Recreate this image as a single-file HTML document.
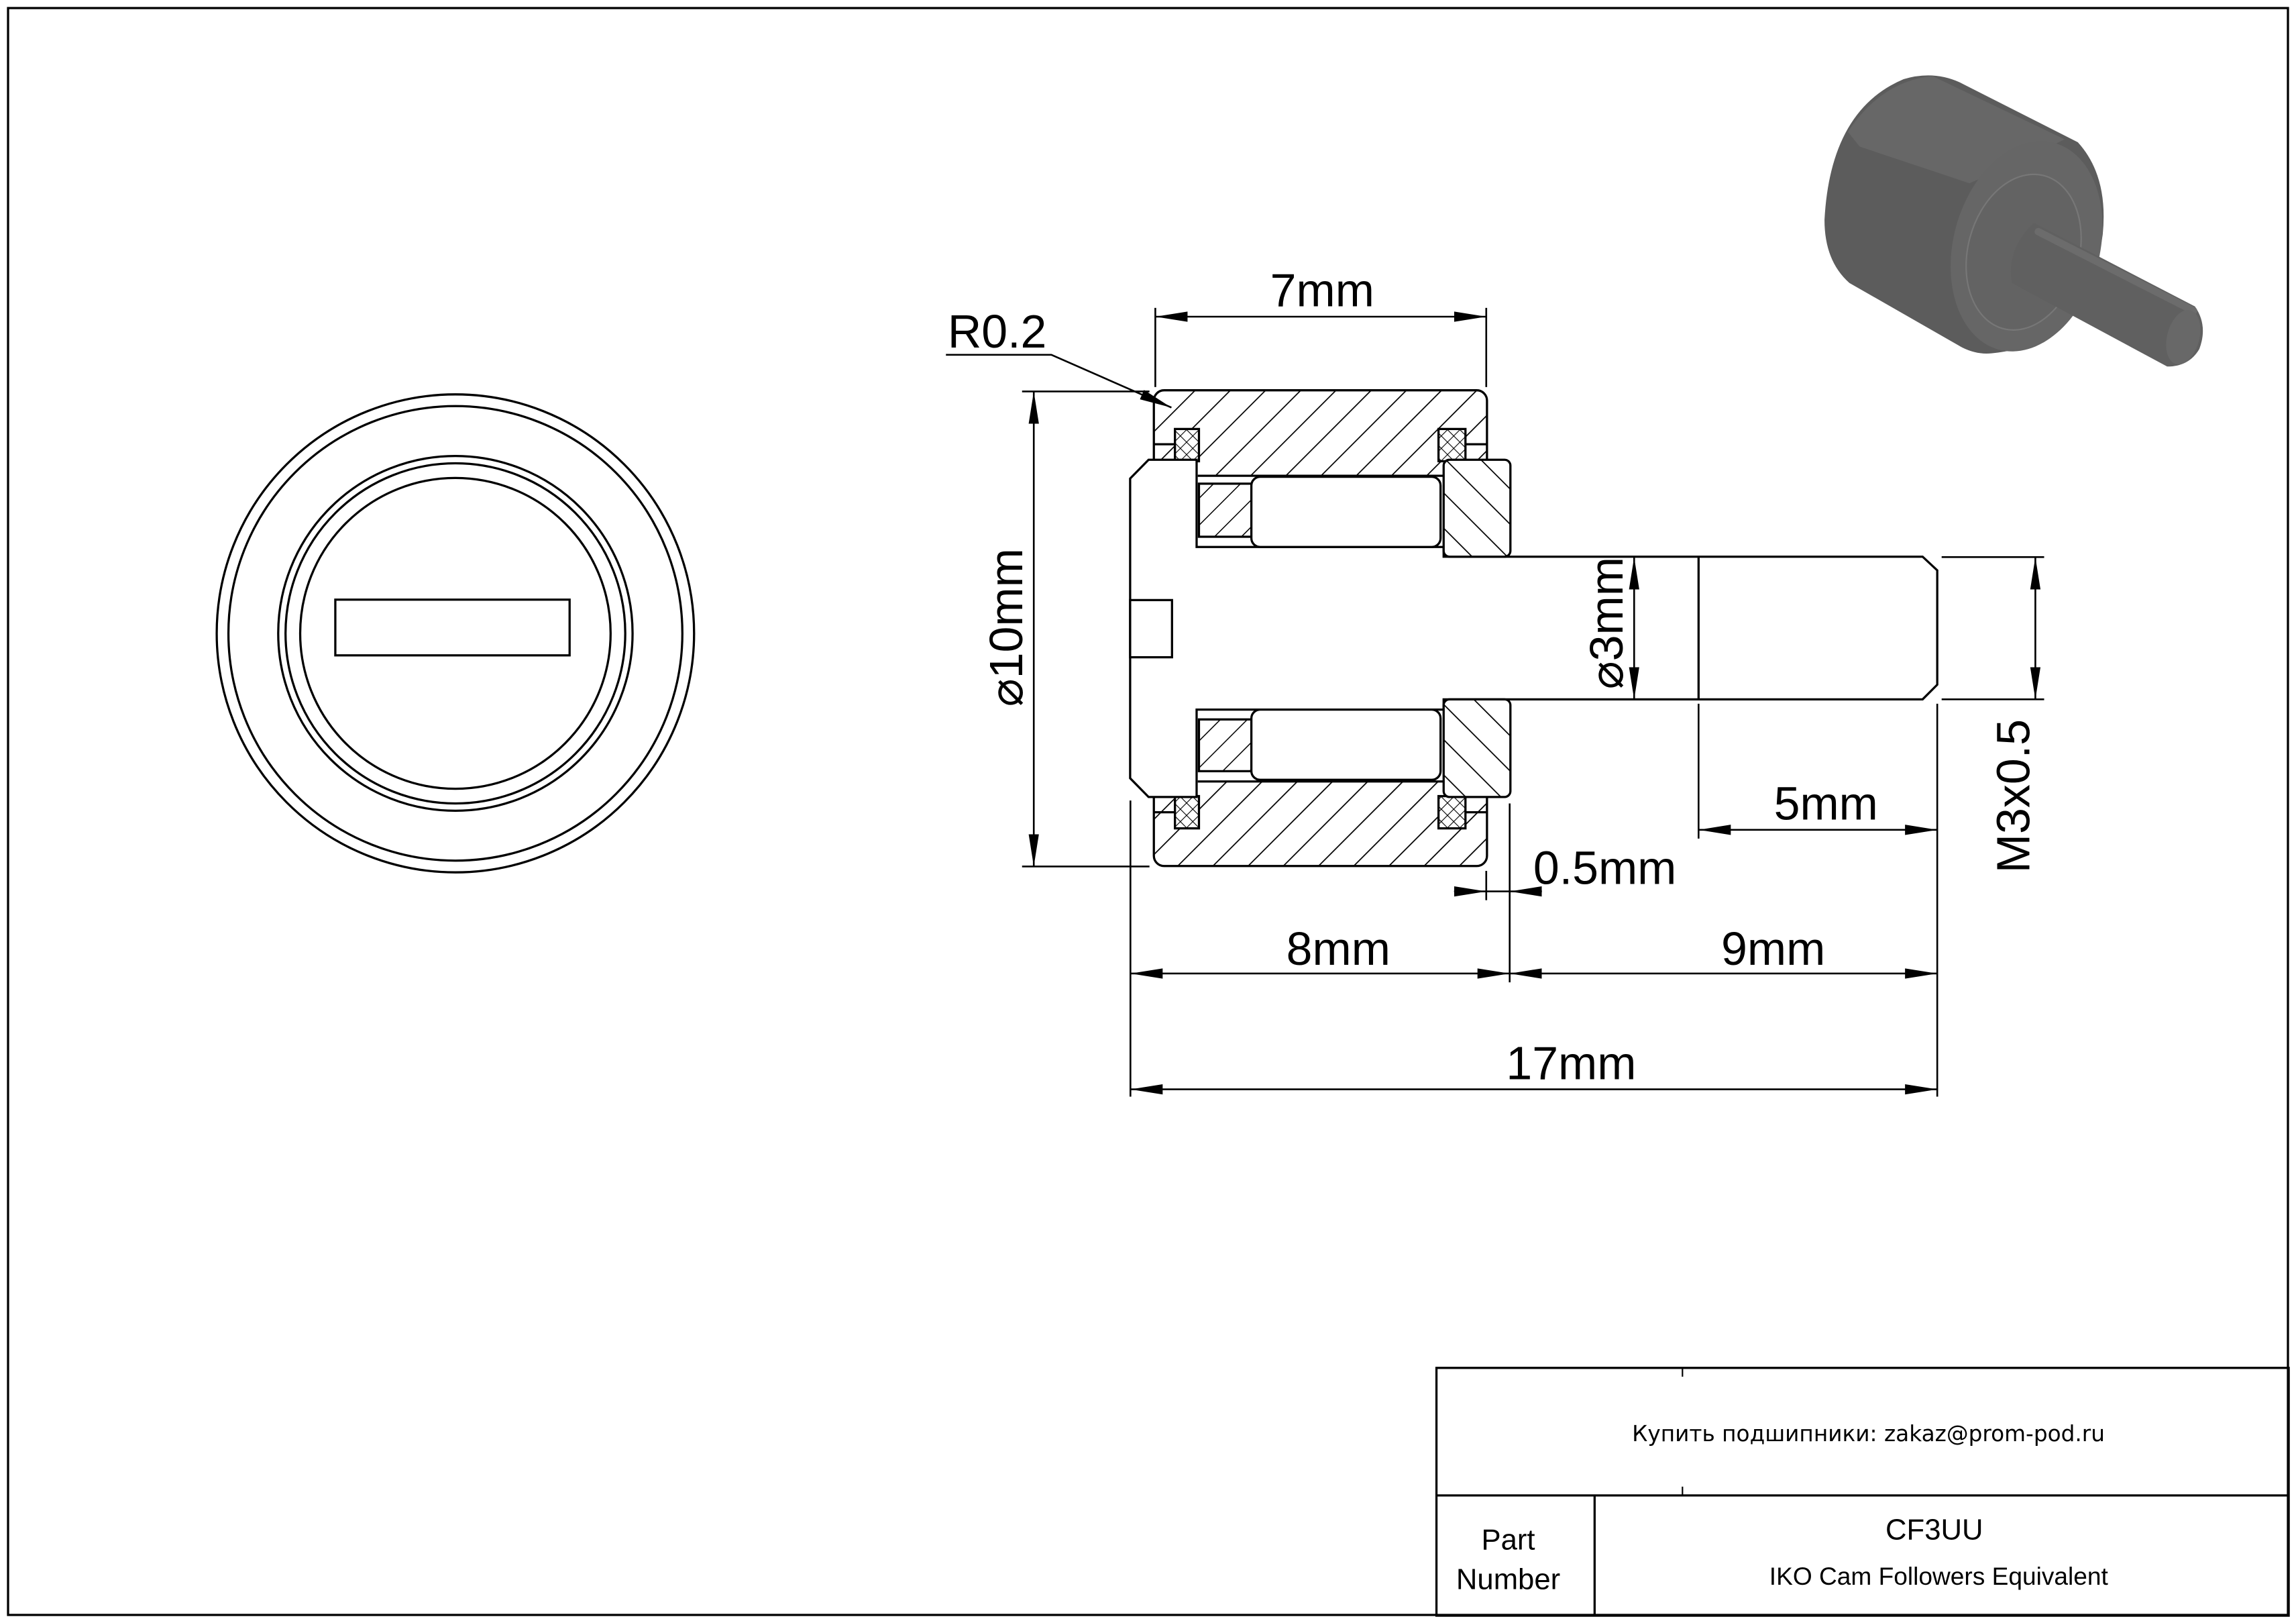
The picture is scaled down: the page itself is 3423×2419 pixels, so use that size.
<!DOCTYPE html>
<html><head><meta charset="utf-8"><style>html,body{margin:0;padding:0;background:#fff}svg{display:block}</style></head>
<body>
<svg width="3423" height="2419" viewBox="0 0 1568 1107" preserveAspectRatio="none" xmlns="http://www.w3.org/2000/svg" font-family="'Liberation Sans','DejaVu Sans',sans-serif">
<defs>
<pattern id="h1" patternUnits="userSpaceOnUse" width="17" height="17" patternTransform="rotate(45)"><rect width="17" height="17" fill="#fff"/><line x1="0" y1="0" x2="0" y2="17" stroke="#000" stroke-width="1.6"/></pattern>
<pattern id="h2" patternUnits="userSpaceOnUse" width="17" height="17" patternTransform="rotate(-45)"><rect width="17" height="17" fill="#fff"/><line x1="0" y1="0" x2="0" y2="17" stroke="#000" stroke-width="1.6"/></pattern>
<pattern id="h3" patternUnits="userSpaceOnUse" width="13" height="13" patternTransform="rotate(45)"><rect width="13" height="13" fill="#fff"/><line x1="0" y1="0" x2="0" y2="13" stroke="#000" stroke-width="1.4"/></pattern>
<pattern id="hx" patternUnits="userSpaceOnUse" width="6" height="6" patternTransform="rotate(45)"><rect width="6" height="6" fill="#fff"/><line x1="0" y1="0" x2="0" y2="6" stroke="#000" stroke-width="1"/><line x1="0" y1="0" x2="6" y2="0" stroke="#000" stroke-width="1"/></pattern>
<marker id="a" markerUnits="userSpaceOnUse" markerWidth="24" markerHeight="10" refX="22" refY="4" orient="auto-start-reverse"><path d="M0,0.5 L22,4 L0,7.5 Z" fill="#000"/></marker>
</defs>
<rect x="5.5" y="5.5" width="1557" height="1096" fill="none" stroke="#000" stroke-width="1.5"/>

<!-- left view -->
<g fill="none" stroke="#000" stroke-width="1.5">
<circle cx="311" cy="432" r="163"/><circle cx="311" cy="432" r="155"/>
<circle cx="311" cy="432" r="121"/><circle cx="311" cy="432" r="116"/><circle cx="311" cy="432" r="106"/>
<rect x="229" y="409" width="160" height="38"/>
</g>

<!-- section -->
<g stroke="#000" stroke-width="1.5">
<rect x="788" y="266.2" width="227.5" height="324.5" rx="7" fill="url(#h1)"/>
<rect x="789" y="324.5" width="225.5" height="208.5" fill="#fff" stroke="none"/>
<line x1="818" y1="324.5" x2="986" y2="324.5"/><line x1="818" y1="533" x2="986" y2="533"/>
<rect x="802.4" y="292.6" width="16.4" height="22" fill="url(#hx)"/>
<rect x="982.4" y="292.6" width="18.4" height="22" fill="url(#hx)"/>
<rect x="802.4" y="543" width="16.4" height="22" fill="url(#hx)"/>
<rect x="982.4" y="543" width="18.4" height="22" fill="url(#hx)"/>
<line x1="788" y1="303" x2="802" y2="303"/><line x1="1001" y1="303" x2="1015" y2="303"/>
<line x1="788" y1="554" x2="802" y2="554"/><line x1="1001" y1="554" x2="1015" y2="554"/>
<path d="M771.8,326.4 L784.4,313.6 L817.2,313.6 L817.2,373.1 L985.9,373.1 L985.9,379.7 L1313,379.7 L1323,389 L1323,467 L1313,477 L985.9,477 L985.9,484 L817.2,484 L817.2,543.6 L784.4,543.6 L771.8,530.8 Z" fill="#fff"/>
<rect x="985.9" y="313.6" width="45.6" height="66.1" rx="4" fill="url(#h2)"/>
<rect x="985.9" y="477" width="45.6" height="66.6" rx="4" fill="url(#h2)"/>
<rect x="818.8" y="329.9" width="35.8" height="36.2" fill="url(#h3)"/>
<rect x="818.8" y="490.7" width="35.8" height="35.3" fill="url(#h3)"/>
<rect x="854.6" y="325.2" width="129.2" height="47.9" rx="6" fill="#fff"/>
<rect x="854.6" y="484" width="129.2" height="47.9" rx="6" fill="#fff"/>
<rect x="771.8" y="409.3" width="28.6" height="39" fill="none"/>
<line x1="1160" y1="379.7" x2="1160" y2="477"/>
</g>

<!-- dimensions -->
<g stroke="#000" stroke-width="1.2" fill="none">
<line x1="789" y1="210" x2="789" y2="264"/><line x1="1015" y1="210" x2="1015" y2="264"/>
<line x1="789" y1="216" x2="1015" y2="216" marker-start="url(#a)" marker-end="url(#a)"/>
<polyline points="646,242 718,242 800,278" marker-end="url(#a)"/>
<line x1="698" y1="267" x2="785" y2="267"/><line x1="698" y1="591" x2="785" y2="591"/>
<line x1="706" y1="267" x2="706" y2="591" marker-start="url(#a)" marker-end="url(#a)"/>
<line x1="1116" y1="380" x2="1116" y2="477" marker-start="url(#a)" marker-end="url(#a)"/>
<line x1="1326" y1="380" x2="1396" y2="380"/><line x1="1326" y1="477" x2="1396" y2="477"/>
<line x1="1390" y1="380" x2="1390" y2="477" marker-start="url(#a)" marker-end="url(#a)"/>
<line x1="1160" y1="480" x2="1160" y2="572"/>
<line x1="1160" y1="566" x2="1323" y2="566" marker-start="url(#a)" marker-end="url(#a)"/>
<line x1="1015" y1="594" x2="1015" y2="614"/><line x1="1031" y1="548" x2="1031" y2="670"/>
<line x1="993" y1="608" x2="1015" y2="608" marker-end="url(#a)"/>
<line x1="1053" y1="608" x2="1031" y2="608" marker-end="url(#a)"/>
<line x1="1015" y1="608" x2="1031" y2="608"/>
<line x1="772" y1="546" x2="772" y2="748"/><line x1="1323" y1="480" x2="1323" y2="748"/>
<line x1="772" y1="664" x2="1031" y2="664" marker-start="url(#a)" marker-end="url(#a)"/>
<line x1="1031" y1="664" x2="1323" y2="664" marker-start="url(#a)" marker-end="url(#a)"/>
<line x1="772" y1="743" x2="1323" y2="743" marker-start="url(#a)" marker-end="url(#a)"/>
</g>
<g font-size="32" fill="#000" text-anchor="middle">
<text x="903" y="209">7mm</text>
<text x="681" y="237">R0.2</text>
<text transform="translate(698,428) rotate(-90)">⌀10mm</text>
<text transform="translate(1108,425) rotate(-90)">⌀3mm</text>
<text transform="translate(1386,543) rotate(-90)">M3x0.5</text>
<text x="1247" y="559">5mm</text>
<text x="1096" y="603">0.5mm</text>
<text x="914" y="658">8mm</text>
<text x="1211" y="658">9mm</text>
<text x="1073" y="736">17mm</text>
</g>

<!-- 3D view -->
<g>
<path d="M1246,150 Q1250,75 1300,54 Q1320,48 1338,56 L1419,97 Q1440,120 1436,160 Q1425,235 1360,241 Q1350,242 1340,237 L1263,193 Q1246,178 1246,150 Z" fill="#5c5c5c"/>
<path d="M1262,90 Q1285,55 1320,52 L1410,95 Q1380,110 1345,125 L1270,100 Z" fill="#6e6e6e" opacity="0.6"/>
<ellipse cx="1384" cy="168" rx="50" ry="73" transform="rotate(15 1384 168)" fill="#666"/>
<ellipse cx="1382" cy="172" rx="38" ry="54" transform="rotate(15 1382 172)" fill="#636363" stroke="#777" stroke-width="1"/>
<path d="M1389,152 L1499,209 Q1508,222 1502,238 Q1495,250 1480,250 L1374,193 Q1370,170 1389,152 Z" fill="#606060"/>
<line x1="1392" y1="158" x2="1498" y2="212" stroke="#6c6c6c" stroke-width="5" stroke-linecap="round"/>
<ellipse cx="1491" cy="230" rx="11" ry="19" transform="rotate(15 1491 230)" fill="#686868"/>
</g>

<!-- title block -->
<g stroke="#000" stroke-width="1.5" fill="none">
<rect x="981" y="933" width="582" height="169"/>
<line x1="981" y1="1020" x2="1563" y2="1020"/>
<line x1="1089" y1="1020" x2="1089" y2="1102"/>
<line x1="1149" y1="933" x2="1149" y2="939" stroke-width="1"/>
<line x1="1149" y1="1014" x2="1149" y2="1020" stroke-width="1"/>
</g>
<g fill="#000" text-anchor="middle">
<text x="1276" y="983" font-size="15" font-family="'DejaVu Sans',sans-serif">Купить подшипники: zakaz@prom-pod.ru</text>
<text x="1030" y="1057" font-size="20">Part</text>
<text x="1030" y="1084" font-size="20">Number</text>
<text x="1321" y="1050" font-size="20">CF3UU</text>
<text x="1324" y="1081" font-size="17">IKO Cam Followers Equivalent</text>
</g>
</svg>
</body></html>
